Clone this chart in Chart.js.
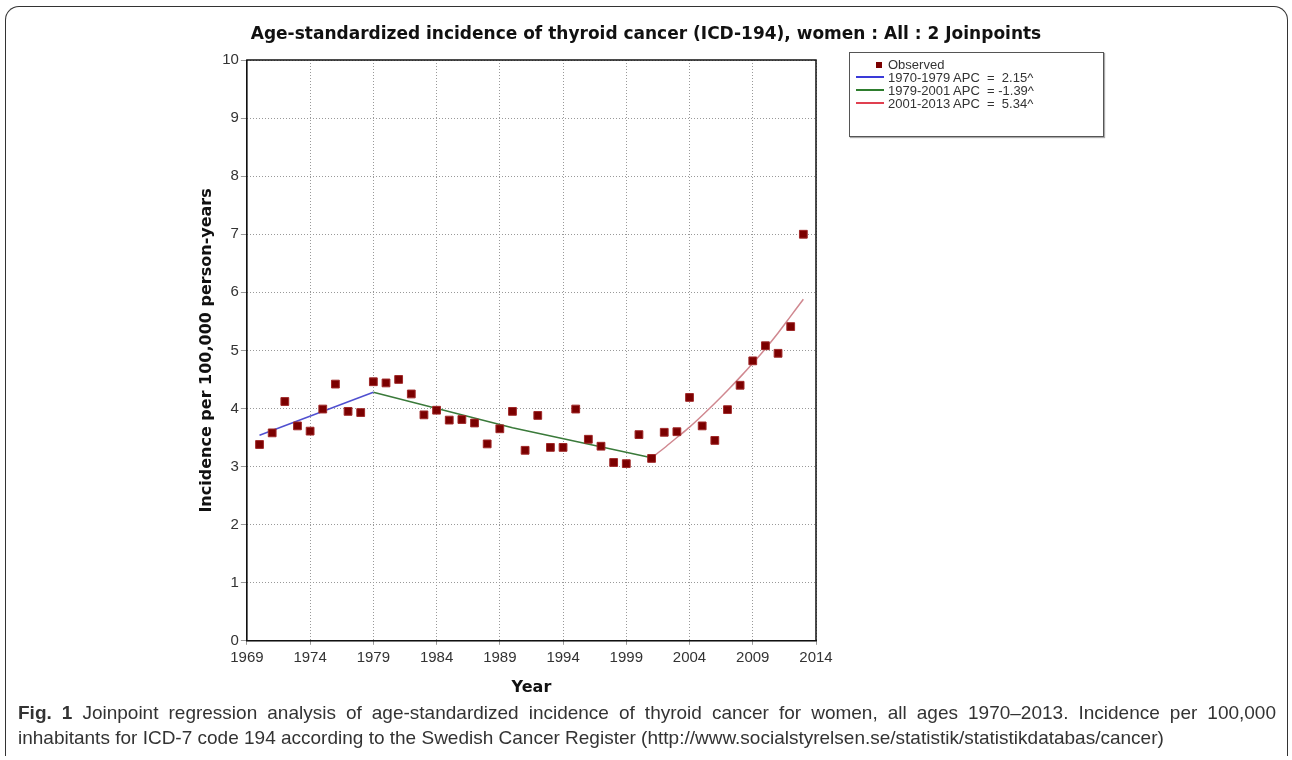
<!DOCTYPE html>
<html>
<head>
<meta charset="utf-8">
<script src="https://cdn.jsdelivr.net/npm/chart.js@4"></script>
<style>
  body { margin: 0; background: #fff; }
  #fig { position: absolute; left: 5px; top: 6px; width: 1281px; height: 749px; border: 1.5px solid #333; border-radius: 14px 14px 0 0; border-bottom: none; }
  #wrap { position: absolute; left: 0; top: 0; width: 1292px; height: 705px; }
  #titulo { position: absolute; left: 0; top: 23px; width: 1292px; text-align: center; font: bold 17px "DejaVu Sans", sans-serif; color: #111; white-space: nowrap; }
  #legend { position: absolute; left: 849px; top: 52px; width: 253px; height: 83px; border: 1px solid #555; box-shadow: 1px 1px 1px #aaa; background: #fff;
            font: 13px "Liberation Sans", Arial, sans-serif; color: #333; }
  #legend div { position: absolute; left: 38px; white-space: nowrap; }
  #legend i { position: absolute; }
  #caption { position: absolute; left: 18px; top: 700px; width: 1258px; font: 19px "Liberation Sans", sans-serif; color: #333; line-height: 25px; }
  #caption .l1 { text-align: justify; text-align-last: justify; white-space: nowrap; }
</style>
</head>
<body>
<div id="fig"></div>
<div id="wrap"><canvas id="grafico" width="1292" height="705"></canvas></div>
<div id="titulo">Age-standardized incidence of thyroid cancer (ICD-194), women : All : 2 Joinpoints</div>
<div id="legend">
  <i style="left:26px;top:9px;width:6px;height:6px;background:#7b0000"></i>
  <div style="top:4px">Observed</div>
  <i style="left:6px;top:23px;width:28px;height:2px;background:#3a3ad8"></i>
  <div style="top:17px">1970-1979 APC &nbsp;= &nbsp;2.15^</div>
  <i style="left:6px;top:36px;width:28px;height:2px;background:#2e7d2e"></i>
  <div style="top:30px">1979-2001 APC &nbsp;= -1.39^</div>
  <i style="left:6px;top:49px;width:28px;height:2px;background:#e04050"></i>
  <div style="top:43px">2001-2013 APC &nbsp;= &nbsp;5.34^</div>
</div>
<div id="caption">
  <div class="l1"><b>Fig. 1</b> Joinpoint regression analysis of age-standardized incidence of thyroid cancer for women, all ages 1970–2013. Incidence per 100,000</div>
  <div>inhabitants for ICD-7 code 194 according to the Swedish Cancer Register (http://www.socialstyrelsen.se/statistik/statistikdatabas/cancer)</div>
</div>

<script>
const anos = [1970, 1971, 1972, 1973, 1974, 1975, 1976, 1977, 1978, 1979, 1980, 1981, 1982, 1983, 1984,
  1985, 1986, 1987, 1988, 1989, 1990, 1991, 1992, 1993, 1994, 1995, 1996, 1997, 1998, 1999,
  2000, 2001, 2002, 2003, 2004, 2005, 2006, 2007, 2008, 2009, 2010, 2011, 2012, 2013];
const observados = [3.38, 3.58, 4.12, 3.70, 3.61, 3.99, 4.42, 3.95, 3.93, 4.46, 4.44, 4.50, 4.25, 3.89, 3.97,
  3.80, 3.81, 3.75, 3.39, 3.65, 3.95, 3.28, 3.88, 3.33, 3.33, 3.99, 3.47, 3.35, 3.07, 3.05,
  3.55, 3.14, 3.59, 3.60, 4.19, 3.70, 3.45, 3.98, 4.40, 4.82, 5.08, 4.95, 5.41, 7.00];

// Fitted segments (joinpoint)
const anosSeg1 = [1970, 1979];
const seg1 = [3.54, 4.28];
const anosSeg2 = [1979, 1990, 2001];
const seg2 = [4.28, 3.67, 3.15];
const anosSeg3 = [2001, 2002, 2003, 2004, 2005, 2006, 2007, 2008, 2009, 2010, 2011, 2012, 2013];
const seg3 = [3.15, 3.32, 3.50, 3.68, 3.88, 4.09, 4.31, 4.54, 4.78, 5.03, 5.30, 5.59, 5.88];

const xTicks = [1969, 1974, 1979, 1984, 1989, 1994, 1999, 2004, 2009, 2014];

function pares(xs, ys) {
  return xs.map((x, i) => ({ x: x, y: ys[i] }));
}

// moldura preta em volta da area do grafico
const moldura = {
  id: 'moldura',
  afterDraw(chart) {
    const a = chart.chartArea;
    const ctx = chart.ctx;
    ctx.save();
    ctx.strokeStyle = '#111';
    ctx.lineWidth = 1.5;
    ctx.strokeRect(a.left, a.top, a.right - a.left, a.bottom - a.top);
    ctx.restore();
  }
};

const ctx = document.getElementById('grafico').getContext('2d');
new Chart(ctx, {
  type: 'scatter',
  data: {
    datasets: [
      { label: 'Observed', data: pares(anos, observados), pointStyle: 'rect', pointRadius: 5.5,
        backgroundColor: '#7b0000', borderColor: '#a02828', borderWidth: 1, order: 0 },
      { label: '1970-1979', type: 'line', data: pares(anosSeg1, seg1), borderColor: '#5050d0',
        borderWidth: 1.5, pointRadius: 0, order: 1 },
      { label: '1979-2001', type: 'line', data: pares(anosSeg2, seg2), borderColor: '#3a7a3a',
        borderWidth: 1.5, pointRadius: 0, order: 1 },
      { label: '2001-2013', type: 'line', data: pares(anosSeg3, seg3), borderColor: '#d08890',
        borderWidth: 1.5, pointRadius: 0, cubicInterpolationMode: 'monotone', order: 1 }
    ]
  },
  options: {
    responsive: false,
    animation: false,
    layout: { padding: { left: 193, right: 476, top: 60, bottom: 4 } },
    plugins: {
      legend: { display: false },
      tooltip: { enabled: false },
      title: { display: false }
    },
    scales: {
      x: {
        type: 'linear', min: 1969, max: 2014,
        afterBuildTicks: (s) => { s.ticks = xTicks.map(v => ({ value: v })); },
        ticks: { callback: (v) => String(v), color: '#333', maxRotation: 0,
                 font: { family: 'Liberation Sans', size: 15 }, padding: 4 },
        grid: { color: '#999', tickLength: 4 },
        border: { dash: [1, 2], color: '#111' },
        title: { display: true, text: 'Year', color: '#111', padding: { top: 7 },
                 font: { family: 'DejaVu Sans', size: 16, weight: 'bold' } }
      },
      y: {
        min: 0, max: 10,
        ticks: { stepSize: 1, color: '#333', font: { family: 'Liberation Sans', size: 15 }, padding: 2 },
        grid: { color: '#999', tickLength: 6 },
        border: { dash: [1, 2], color: '#111' },
        title: { display: true, text: 'Incidence per 100,000 person-years', color: '#111', padding: { top: 4, bottom: 4 },
                 font: { family: 'DejaVu Sans', size: 16, weight: 'bold' } }
      }
    }
  },
  plugins: [moldura]
});
</script>
</body>
</html>
